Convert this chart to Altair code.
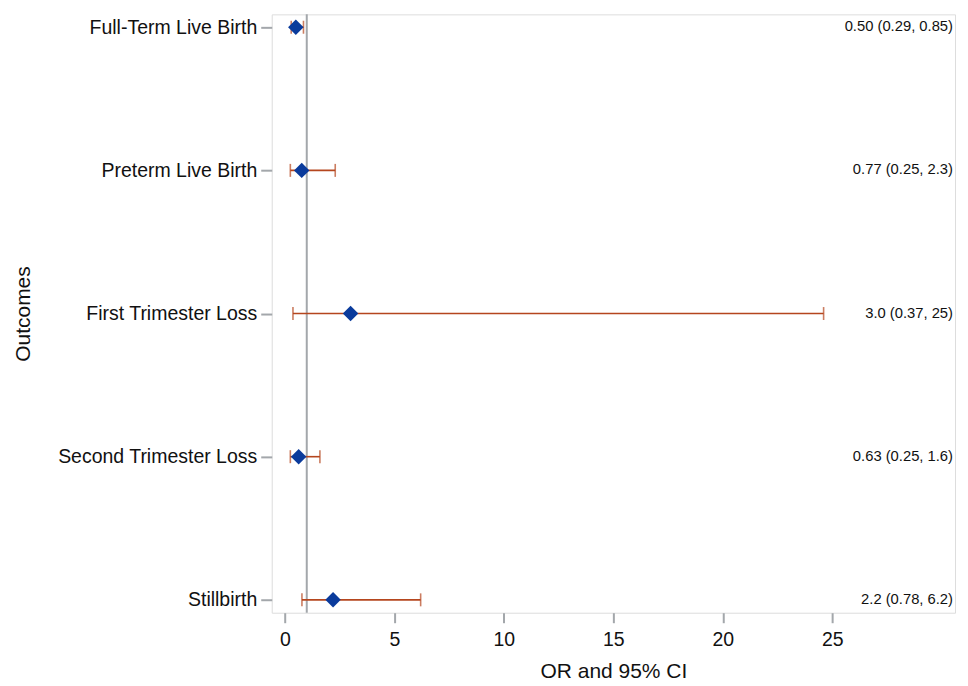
import altair as alt
import pandas as pd

outcomes = ["Full-Term Live Birth", "Preterm Live Birth", "First Trimester Loss",
            "Second Trimester Loss", "Stillbirth"]
odds_ratio = [0.50, 0.77, 3.0, 0.63, 2.2]
ci_low = [0.29, 0.25, 0.37, 0.25, 0.78]
ci_high = [0.85, 2.3, 24.6, 1.6, 6.2]
labels = ["0.50 (0.29, 0.85)", "0.77 (0.25, 2.3)", "3.0 (0.37, 25)",
          "0.63 (0.25, 1.6)", "2.2 (0.78, 6.2)"]
x_ticks = [0, 5, 10, 15, 20, 25]
ref_value = [1]

df = pd.DataFrame({"outcome": outcomes, "or": odds_ratio, "lo": ci_low,
                   "hi": ci_high, "label": labels})
ref = pd.DataFrame({"ref": ref_value})

W, H = 684, 599
FONT = "Liberation Sans"
GRAY = "#a3a7ab"
RED = "#b5461e"

xscale = alt.Scale(domain=[-0.6, 30.6], nice=False, zero=False)
yscale = alt.Scale(type="point", domain=outcomes, padding=0.09)

xenc = alt.X("lo:Q", scale=xscale,
             axis=alt.Axis(title="OR and 95% CI", values=x_ticks, grid=False,
                           domain=False, tickColor=GRAY, tickWidth=2, tickSize=10,
                           labelFontSize=19.5, labelFont=FONT, labelColor="#111",
                           labelPadding=8, titleFontSize=21, titleFont=FONT,
                           titleFontWeight="normal", titleColor="#111",
                           titlePadding=11))
yenc = alt.Y("outcome:N", scale=yscale, sort=outcomes,
             axis=alt.Axis(title="Outcomes", grid=False, domain=False,
                           tickColor=GRAY, tickWidth=2, tickSize=11,
                           labelFontSize=19.5, labelFont=FONT, labelColor="#111",
                           labelPadding=4, labelLimit=400, titleFontSize=21,
                           titleFont=FONT, titleFontWeight="normal",
                           titleColor="#111", titlePadding=38))

ypos = alt.Y("outcome:N", scale=yscale, sort=outcomes)

base = alt.Chart(df)

refline = alt.Chart(ref).mark_rule(color=GRAY, strokeWidth=2).encode(
    x=alt.X("ref:Q", scale=xscale))

bars = base.mark_rule(color=RED, strokeWidth=1.6).encode(
    x=xenc, x2="hi:Q", y=yenc)

cap_lo = base.mark_tick(color=RED, orient="vertical", size=13,
                        thickness=1.6).encode(x=alt.X("lo:Q", scale=xscale), y=ypos)
cap_hi = base.mark_tick(color=RED, orient="vertical", size=13,
                        thickness=1.6).encode(x=alt.X("hi:Q", scale=xscale), y=ypos)

points = base.mark_point(shape="diamond", filled=True, size=240, color="#0a3b9c",
                         opacity=1).encode(x=alt.X("or:Q", scale=xscale), y=ypos)

texts = base.mark_text(align="right", baseline="middle", fontSize=14.8, font=FONT,
                       color="#111").encode(
    x=alt.value(W - 2), y=ypos, text="label:N")

chart = alt.layer(refline, bars, cap_lo, cap_hi, points, texts).properties(
    width=W, height=H
).configure_view(stroke=GRAY, strokeWidth=2).configure(background="white")

chart.save("out.html", embed_options={"renderer": "svg", "actions": False})
